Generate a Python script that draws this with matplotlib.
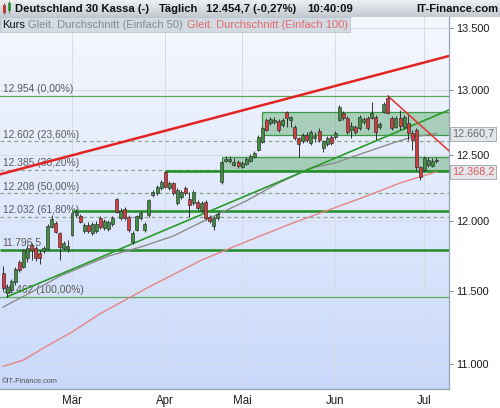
import numpy as np
import pandas as pd
import matplotlib
matplotlib.use('Agg')
import matplotlib.pyplot as plt
from matplotlib.transforms import blended_transform_factory
from matplotlib.patches import Rectangle

plt.rcParams['font.family'] = ['Liberation Sans', 'DejaVu Sans']

# ---------------- data ----------------
first_day, last_day = '2017-02-06', '2017-07-06'
holidays = ['2017-04-14']

opens = [11629, 11488, 11509, 11566, 11707, 11672, 11735, 11830, 11808, 11772,
         11786, 11801, 11960, 11989, 11917, 11808, 11801, 11902, 12048, 12041,
         11931, 11975, 11917, 11931, 12026, 11953, 11946, 11982, 12166, 12026,
         12092, 12033, 11852, 11938, 12026, 11938, 12048, 12196, 12211, 12248,
         12368, 12248, 12285, 12137, 12181, 12248, 12166, 12137, 12144, 12085,
         12144, 12033, 11967, 12026, 12292, 12451, 12451, 12421, 12444, 12406,
         12429, 12451, 12482, 12535, 12596, 12767, 12743, 12751, 12759, 12728,
         12829, 12767, 12712, 12626, 12603, 12650, 12588, 12626, 12681, 12550,
         12581, 12634, 12634, 12767, 12821, 12782, 12689, 12712, 12704, 12751,
         12782, 12782, 12790, 12712, 12829, 12938, 12782, 12712, 12782, 12712,
         12743, 12665, 12689, 12406, 12383, 12421, 12413, 12451]
highs = [11679, 11552, 11587, 11672, 11721, 11802, 11830, 11844, 11823, 11794,
         11823, 11982, 12048, 12004, 11924, 11859, 11866, 12070, 12092, 12055,
         11989, 11996, 11996, 12004, 12041, 12018, 12011, 12041, 12174, 12100,
         12107, 12048, 11931, 12048, 12077, 11996, 12166, 12233, 12270, 12307,
         12375, 12300, 12292, 12248, 12233, 12263, 12218, 12233, 12159, 12151,
         12159, 12048, 12041, 12070, 12451, 12489, 12489, 12474, 12459, 12451,
         12482, 12505, 12527, 12650, 12720, 12782, 12790, 12790, 12775, 12782,
         12837, 12798, 12728, 12634, 12665, 12673, 12689, 12673, 12704, 12611,
         12642, 12650, 12681, 12884, 12837, 12798, 12751, 12728, 12806, 12790,
         12798, 12907, 12806, 12751, 12907, 12954, 12798, 12798, 12845, 12806,
         12806, 12689, 12704, 12413, 12489, 12482, 12474, 12482]
lows = [11502, 11462, 11495, 11545, 11636, 11665, 11707, 11721, 11714, 11693,
        11772, 11794, 11953, 11917, 11721, 11794, 11779, 11895, 12033, 11989,
        11917, 11917, 11902, 11917, 11946, 11938, 11931, 11967, 12063, 12011,
        12011, 11924, 11837, 11931, 12011, 11924, 12033, 12181, 12196, 12233,
        12248, 12233, 12196, 12122, 12166, 12196, 12033, 12122, 12085, 12070,
        12011, 11989, 11938, 12011, 12277, 12444, 12436, 12413, 12398, 12398,
        12421, 12444, 12474, 12527, 12588, 12681, 12728, 12736, 12673, 12712,
        12712, 12712, 12611, 12482, 12588, 12596, 12573, 12596, 12596, 12520,
        12565, 12573, 12619, 12759, 12767, 12658, 12626, 12658, 12689, 12736,
        12689, 12775, 12611, 12697, 12821, 12814, 12689, 12704, 12689, 12697,
        12611, 12535, 12383, 12307, 12375, 12406, 12406, 12436]
closes = [11524, 11531, 11573, 11658, 11651, 11794, 11808, 11794, 11735, 11735,
          11808, 11968, 12018, 11924, 11815, 11844, 11823, 12063, 12070, 11996,
          11975, 11931, 11982, 11982, 11960, 12004, 11996, 12026, 12070, 12077,
          12026, 11938, 11917, 12041, 12063, 11982, 12159, 12218, 12255, 12292,
          12255, 12285, 12211, 12233, 12218, 12211, 12122, 12218, 12100, 12137,
          12026, 12004, 12026, 12055, 12444, 12467, 12467, 12444, 12413, 12436,
          12467, 12489, 12512, 12634, 12704, 12689, 12775, 12767, 12689, 12767,
          12782, 12790, 12626, 12581, 12650, 12611, 12673, 12642, 12611, 12603,
          12626, 12588, 12665, 12868, 12782, 12673, 12720, 12673, 12790, 12775,
          12704, 12821, 12673, 12736, 12892, 12821, 12704, 12782, 12720, 12790,
          12665, 12611, 12406, 12330, 12474, 12459, 12451, 12454.7]

# simple moving averages, sampled at bar indices
ma50_idx = [0, 7, 14, 26, 34, 42, 51, 60, 68, 76, 82, 89, 97, 101, 107]
ma50_val = [11390, 11495, 11607, 11750, 11815, 11894, 12025, 12151, 12285,
            12398, 12436, 12512, 12596, 12634, 12660.7]
ma100_idx = [0, 5, 10, 17, 24, 36, 49, 61, 71, 80, 90, 98, 107]
ma100_val = [10985, 11028, 11110, 11218, 11345, 11530, 11721, 11865, 11983,
             12080, 12190, 12285, 12368.2]

# Fibonacci retracement of the Feb low -> June high swing
fib_levels = [12954, 12602, 12385, 12208, 12032, 11462]
fib_labels = ['12.954 (0,00%)', '12.602 (23,60%)', '12.385 (38,20%)',
              '12.208 (50,00%)', '12.032 (61,80%)', '11.462 (100,00%)']

# horizontal support lines: (start bar, level)
support_lines = [(40, 12377), (17, 12075), (-1, 11796.5)]
support_label = '11.796,5'

# shaded zones: (start bar, low, high)
zones = [(64, 12650, 12831), (54, 12377, 12479)]

# trend lines: ((bar, value), (bar, value))
trend_up_red = ((-0.78, 12350), (110.1, 13274))
trend_up_green = ((1, 11462), (110.1, 12844))
trend_down_red = ((95, 12954), (110.1, 12528))

y_ticks = [11000, 11500, 12000, 12500, 13000, 13500]
y_tick_labels = ['11.000', '11.500', '12.000', '12.500', '13.000', '13.500']
month_labels = ['Mär', 'Apr', 'Mai', 'Jun', 'Jul']

last_ma50, last_ma100 = '12.660,7', '12.368,2'

# ---------------- layout ----------------
dates = pd.bdate_range(first_day, last_day)
dates = dates[~dates.isin(pd.to_datetime(holidays))]
n = len(dates)
idx = np.arange(n)
month_starts = [i for i in range(1, n) if dates[i].month != dates[i - 1].month]

W, H = 500, 408
fig = plt.figure(figsize=(W / 100, H / 100), dpi=100)
fig.patch.set_facecolor('white')


def fx(px):
    return px / W


def fy(py):
    return 1 - py / H


PLOT_TOP, PLOT_BOTTOM, PLOT_RIGHT = 17, 389, 449
ax = fig.add_axes([0, fy(PLOT_BOTTOM), fx(PLOT_RIGHT), (PLOT_BOTTOM - PLOT_TOP) / H])
ax.set_yscale('log')
xmin, xmax = -0.78, 110.1
ax.set_xlim(xmin, xmax)
ax.set_ylim(10835, 13593)

# blue vertical gradient background
grad = np.linspace(0, 1, 256).reshape(-1, 1)
top_c = np.array([0.965, 0.972, 0.995])
bot_c = np.array([0.790, 0.852, 0.985])
img = top_c + (bot_c - top_c) * grad
ax.imshow(img.reshape(256, 1, 3), extent=[0, 1, 0, 1], origin='upper',
          transform=ax.transAxes, aspect='auto', zorder=0, interpolation='bilinear')
ax.set_facecolor('#dfe8fa')

# axes, ticks, grid
ax.yaxis.tick_right()
ax.set_yticks(y_ticks)
ax.set_yticklabels(y_tick_labels)
ax.minorticks_off()
ax.set_xticks(month_starts)
ax.set_xticklabels(month_labels)
ax.tick_params(axis='y', length=3, width=0.6, color='#777777', pad=2,
               labelsize=7.8, labelcolor='#1a1a1a')
ax.tick_params(axis='x', length=0, pad=4.5, labelsize=8.3, labelcolor='#1a1a1a')
ax.grid(True, color='#d6dce6', lw=0.7, zorder=1)
ax.set_axisbelow(True)
for s in ['top', 'left']:
    ax.spines[s].set_visible(False)
for s in ['right', 'bottom']:
    ax.spines[s].set_color('#9aa4b0')
    ax.spines[s].set_linewidth(0.9)

blend = blended_transform_factory(ax.transAxes, ax.transData)

# shaded zones
for start, lo, hi in zones:
    ax.fill_between([start, xmax], lo, hi, color='#4fa45f', alpha=0.42, lw=0, zorder=2)
    ax.hlines([lo, hi], start, xmax, color='#3d9a45', lw=0.9, zorder=2.5)
    ax.vlines(start, lo, hi, color='#3d9a45', lw=0.9, zorder=2.5)

# Fibonacci levels
for k, (lev, lab) in enumerate(zip(fib_levels, fib_labels)):
    if k in (0, len(fib_levels) - 1):
        ax.axhline(lev, color='#5aaa5a', lw=0.9, zorder=3)
    else:
        ax.axhline(lev, color='#8aa58a', lw=0.9, ls=(0, (3, 2.5)), zorder=3)
    ax.annotate(lab, xy=(0.006, lev), xycoords=blend, xytext=(0, 1.2),
                textcoords='offset points', va='bottom', ha='left',
                fontsize=7.4, color='#5a5a5a', zorder=4)

# support lines
for start, lev in support_lines:
    ax.hlines(lev, max(start, xmin), xmax, color='#1f8c25', lw=1.8, zorder=5)
ax.annotate(support_label, xy=(0.006, support_lines[-1][1]), xycoords=blend,
            xytext=(0, 1.2), textcoords='offset points', va='bottom', ha='left',
            fontsize=7.4, color='#5a5a5a', zorder=4)

# moving averages
ax.plot(ma100_idx, ma100_val, color='#e58585', lw=1.0, zorder=5)
ax.plot(ma50_idx, ma50_val, color='#8c8c8c', lw=1.0, zorder=5)

# trend lines
(x0, y0), (x1, y1) = trend_up_red
ax.plot([x0, x1], [y0, y1], color='#e52222', lw=1.8, zorder=5.5)
(x0, y0), (x1, y1) = trend_up_green
ax.plot([x0, x1], [y0, y1], color='#2a9a2a', lw=1.2, zorder=5.5)
(x0, y0), (x1, y1) = trend_down_red
ax.plot([x0, x1], [y0, y1], color='#e43030', lw=1.1, zorder=5.5)

# candlesticks
o = np.array(opens, float)
h = np.array(highs, float)
l = np.array(lows, float)
c = np.array(closes, float)
up = c >= o
body_col = np.where(up, '#3f8f3f', '#d63a3a')
ax.vlines(idx, l, h, color='#303030', lw=0.7, zorder=6)
ax.bar(idx, np.abs(c - o), bottom=np.minimum(o, c), width=0.74,
       color=body_col, edgecolor='#2b2b2b', lw=0.45, zorder=7)

# last-value tags on the price axis
for val_str, val, fc, tc in [(last_ma50, ma50_val[-1], '#e3e7ec', '#6a6a6a'),
                             (last_ma100, ma100_val[-1], '#e3e7ec', '#e05555')]:
    ax.text(1.006, val, val_str, transform=blend, ha='left', va='center',
            fontsize=7.8, color=tc, zorder=10, clip_on=False,
            bbox=dict(boxstyle='square,pad=0.18', fc=fc, ec='#9aa2ac', lw=0.6))

ax.text(0.005, 0.01, '\u00a9IT-Finance.com', transform=ax.transAxes,
        fontsize=5.3, color='#505050', va='bottom', ha='left', zorder=9)

# ---------------- header bar ----------------
ax_t = fig.add_axes([0, fy(PLOT_TOP), 1, PLOT_TOP / H])
g = np.linspace(0, 1, 64).reshape(-1, 1)
tc0 = np.array([0.93, 0.94, 0.95])
tc1 = np.array([0.76, 0.79, 0.82])
ax_t.imshow((tc0 + (tc1 - tc0) * g).reshape(64, 1, 3), extent=[0, 1, 0, 1],
            origin='upper', aspect='auto', interpolation='bilinear')
ax_t.set_xlim(0, 1)
ax_t.set_ylim(0, 1)
ax_t.axis('off')
# small candle icon
ax_t.add_patch(Rectangle((fx(2.5), 0.25), fx(3), 0.45, color='#d33', lw=0))
ax_t.add_patch(Rectangle((fx(7.5), 0.35), fx(3), 0.5, color='#3a3', lw=0))
ax_t.plot([fx(4), fx(4)], [0.15, 0.8], color='#555', lw=0.5)
ax_t.plot([fx(9), fx(9)], [0.25, 0.95], color='#555', lw=0.5)

hdr = dict(fontsize=8.1, fontweight='bold', color='#111111', va='center')
fig.text(fx(15), fy(8.5), 'Deutschland 30 Kassa (-)', ha='left', **hdr)
fig.text(fx(159), fy(8.5), 'Täglich', ha='left', **hdr)
fig.text(fx(206), fy(8.5), '12.454,7 (-0,27%)', ha='left', **hdr)
fig.text(fx(307), fy(8.5), '10:40:09', ha='left', **hdr)
fig.text(fx(498), fy(8.5), 'IT-Finance.com', ha='right', **hdr)

# ---------------- legend strip ----------------
ax_l = fig.add_axes([0, fy(32), fx(350), 15 / H])
ax_l.set_facecolor('#d2dae3')
ax_l.set_xticks([])
ax_l.set_yticks([])
for s in ax_l.spines.values():
    s.set_color('#b9c2cc')
    s.set_linewidth(0.6)
leg = dict(fontsize=8, va='center', ha='left')
fig.text(fx(2), fy(24.5), 'Kurs', color='#111111', **leg)
fig.text(fx(28), fy(24.5), 'Gleit. Durchschnitt (Einfach 50)', color='#8a8a8a', **leg)
fig.text(fx(187), fy(24.5), 'Gleit. Durchschnitt (Einfach 100)', color='#e46a6a', **leg)

fig.savefig('out.png', dpi=100)
